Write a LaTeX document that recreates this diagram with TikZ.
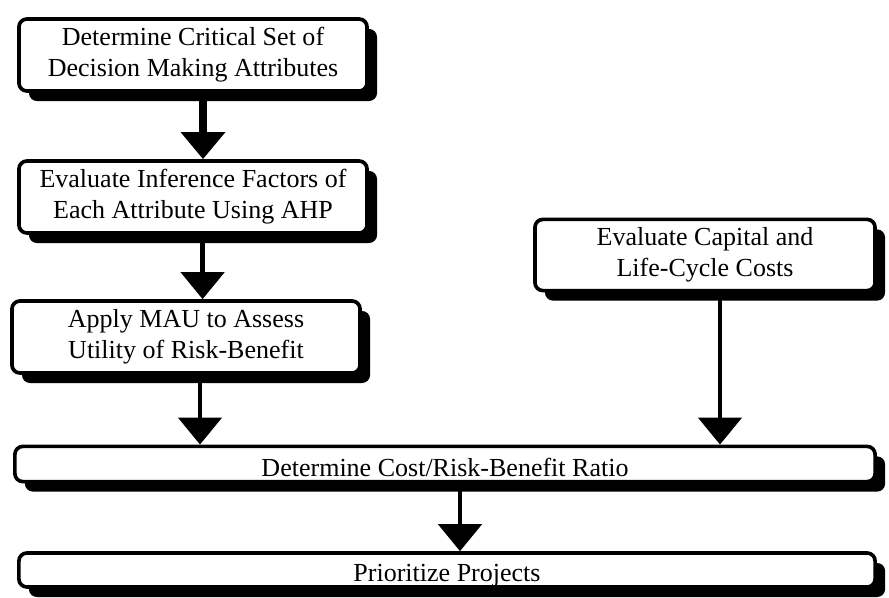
\documentclass[tikz,border=0pt]{standalone}
\usepackage{fontspec}
\setmainfont{Liberation Serif}
\usetikzlibrary{arrows.meta,shadows}

\begin{document}
\begin{tikzpicture}[x=0.025cm,y=-0.025cm,
  box/.style={draw,line width=2.6pt,rounded corners=0.2cm,fill=white,align=center,
    font=\fontsize{18.5}{22}\selectfont,inner sep=0pt,
    drop shadow={shadow xshift=0.25cm,shadow yshift=-0.25cm,fill=black,opacity=1}},
  bar/.style={box,text height=#1,text depth=0pt},
  arr/.style={line width=#1,-{Triangle[width=1.075cm,length=0.675cm]}},
  arr/.default=3.5pt]
\useasboundingbox (0,0) rectangle (889,598);

\node[box,minimum width=8.7cm,minimum height=1.8cm] (crit) at (193,55) {Determine Critical Set of\\Decision Making Attributes};
\node[box,minimum width=8.7cm,minimum height=1.8cm] (ahp) at (193,197) {Evaluate Inference Factors of\\Each Attribute Using AHP};
\node[box,minimum width=8.7cm,minimum height=1.8cm] (mau) at (186,337) {Apply MAU to Assess\\Utility of Risk-Benefit};
\node[box,minimum width=8.5cm,minimum height=1.78cm] (cost) at (705,255) {Evaluate Capital and\\Life-Cycle Costs};

\node[bar=0.6cm,minimum width=21.5cm,minimum height=0.88cm] (ratio) at (445,464) {Determine Cost/Risk-Benefit Ratio};
\node[bar=0.55cm,minimum width=21.4cm,minimum height=0.85cm] (prio) at (447,570) {Prioritize Projects};

\draw[arr=6pt] ([xshift=0.25cm]crit.south) -- ([xshift=0.25cm]crit.south |- ahp.north);
\draw[arr] ([xshift=0.24cm]ahp.south) -- ([xshift=0.24cm]ahp.south |- mau.north);
\draw[arr] ([xshift=0.35cm]mau.south) -- ([xshift=0.35cm]mau.south |- ratio.north);
\draw[arr] ([xshift=0.375cm]cost.south) -- ([xshift=0.375cm]cost.south |- ratio.north);
%\draw[arr] (ratio.south) -- (prio.north);
\draw[arr] ([xshift=0.375cm]ratio.south) -- ([xshift=0.375cm]ratio.south |- prio.north);
\end{tikzpicture}
\end{document}
